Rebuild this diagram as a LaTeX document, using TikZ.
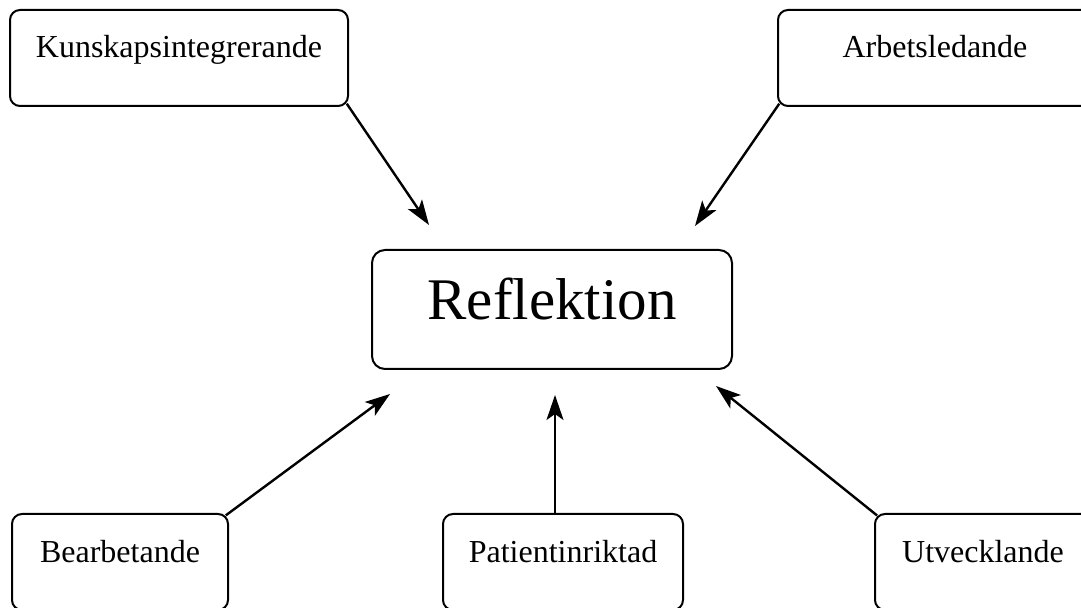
\documentclass[tikz,border=0pt]{standalone}
\usepackage{fontspec}
\setmainfont{Liberation Serif}
\usetikzlibrary{arrows.meta}

\begin{document}
\begin{tikzpicture}[x=0.5pt,y=-0.5pt,
 box/.style={draw=black,line width=1pt,rounded corners=5pt,inner sep=0pt,
  minimum height=48pt,text height=24pt,text depth=24pt,font=\fontsize{16}{19}\selectfont},
 mainbox/.style={draw=black,line width=1pt,rounded corners=6.5pt,inner sep=0pt,
  minimum width=180pt,text height=35pt,text depth=24.5pt,font=\fontsize{29.5}{35}\selectfont},
 arr/.style={-{Stealth[length=12.5pt,width=8.5pt,inset=3pt]},line width=1.2pt,shorten <=-2pt}]
\useasboundingbox (0,0) rectangle (1081,608);
\node[mainbox] (ref) at (552,309.5) {Reflektion};
\node[box,minimum width=169pt] (kun) at (179,58) {Kunskapsintegrerande};
\node[box,minimum width=157pt] (arb) at (935,58) {Arbetsledande};
\node[box,minimum width=108pt] (bea) at (120,562) {Bearbetande};
\node[box,minimum width=120pt] (pat) at (563,562) {Patientinriktad};
\node[box,minimum width=108pt] (utv) at (983,562) {Utvecklande};
% arrow tips
\coordinate (t1) at (429,225);
\coordinate (t2) at (695,226);
\coordinate (t3) at (390,394);
\coordinate (t4) at (555,395);
\coordinate (t5) at (716,386);
\draw[arr] (kun.south east)--(t1);
\draw[arr] (arb.south west)--(t2);
\draw[arr] (bea.north east)--(t3);
\draw[arr,shorten <=0pt] (pat.north-|t4)--(t4);
\draw[arr] (utv.north west)--(t5);
\end{tikzpicture}
\end{document}
